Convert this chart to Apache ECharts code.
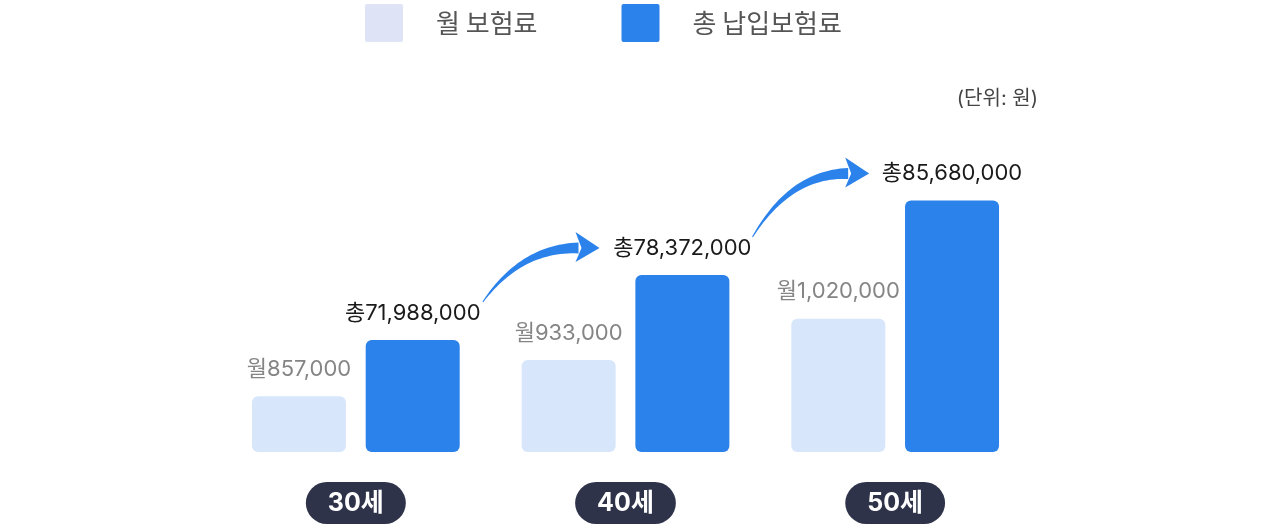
<!DOCTYPE html>
<html>
<head>
<meta charset="utf-8">
<script src="https://cdn.jsdelivr.net/npm/echarts@6/dist/echarts.min.js"></script>
<style>
  html, body { margin: 0; padding: 0; background: #fff; }
  #chart { width: 1286px; height: 526px; }
</style>
</head>
<body>
<div id="chart"></div>
<script>
var ages = ['30세', '40세', '50세']
var monthly = [857000, 933000, 1020000]
var total = [71988000, 78372000, 85680000]
var seriesNames = ['월 보험료', '총 납입보험료']
var unitText = '(단위: 원)'

var FONT = 'Inter, "Noto Sans CJK KR", sans-serif'
var fmt = function (v) { return v.toLocaleString('en-US') }

var chart = echarts.init(document.getElementById('chart'))

chart.setOption({
  animation: false,
  textStyle: { fontFamily: FONT },
  legend: {
    left: 365,
    top: 4,
    padding: 0,
    itemWidth: 38,
    itemHeight: 38,
    itemGap: 84,
    icon: 'path://M2,0 H36 A2,2 0 0 1 38,2 V36 A2,2 0 0 1 36,38 H2 A2,2 0 0 1 0,36 V2 A2,2 0 0 1 2,0 Z',
    textStyle: { fontSize: 26, color: '#555', padding: [0, 0, 0, 28], fontFamily: '"Noto Sans CJK KR", sans-serif' },
    data: [
      { name: seriesNames[0], itemStyle: { color: '#dee4f5' } },
      { name: seriesNames[1], itemStyle: { color: '#2b82ea' } }
    ]
  },
  title: {
    text: unitText,
    right: 243,
    top: 84,
    textStyle: { fontSize: 20, fontWeight: 'normal', color: '#444', fontFamily: FONT }
  },
  grid: { left: 221, right: 256, top: 100, bottom: 74 },
  xAxis: {
    type: 'category',
    data: ages,
    axisLine: { show: false },
    axisTick: { show: false },
    axisLabel: {
      margin: 30,
      color: '#fff',
      fontSize: 25,
      fontWeight: 'bold',
      lineHeight: 24,
      backgroundColor: '#2e3349',
      borderRadius: 21,
      padding: [9, 22],
      fontFamily: FONT
    }
  },
  yAxis: [
    { type: 'value', min: 740000, max: 1479000, show: false, splitLine: { show: false } },
    { type: 'value', min: 61000000, max: 95540000, show: false, splitLine: { show: false } }
  ],
  series: [
    {
      name: seriesNames[0],
      type: 'bar',
      yAxisIndex: 0,
      data: monthly,
      barWidth: 94,
      barGap: '21%',
      itemStyle: { color: '#d8e6fb', borderRadius: 6 },
      label: {
        show: true,
        position: 'top',
        distance: 16,
        fontSize: 22,
        color: '#858585',
        formatter: function (p) { return '월' + fmt(p.value) }
      }
    },
    {
      name: seriesNames[1],
      type: 'bar',
      yAxisIndex: 1,
      data: total,
      barWidth: 94,
      barGap: '21%',
      itemStyle: { color: '#2b82ea', borderRadius: 6 },
      label: {
        show: true,
        position: 'top',
        distance: 16,
        fontSize: 22,
        color: '#1a1a1a',
        formatter: function (p) { return '총' + fmt(p.value) }
      }
    }
  ]
})

// curved arrows between the total labels
function arrowShapes(sx, sy, ex, ey) {
  var bx = ex - 21, by = ey
  var cx = sx + 38, cy = ey
  var left = [], right = []
  for (var i = 0; i <= 30; i++) {
    var t = i / 30
    var x = (1 - t) * (1 - t) * sx + 2 * (1 - t) * t * cx + t * t * bx
    var y = (1 - t) * (1 - t) * sy + 2 * (1 - t) * t * cy + t * t * by
    var dx = 2 * (1 - t) * (cx - sx) + 2 * t * (bx - cx)
    var dy = 2 * (1 - t) * (cy - sy) + 2 * t * (by - cy)
    var len = Math.sqrt(dx * dx + dy * dy) || 1
    var nx = -dy / len, ny = dx / len
    var w = (1 + 10 * t) / 2
    left.push([x + nx * w, y + ny * w])
    right.unshift([x - nx * w, y - ny * w])
  }
  return [
    { type: 'polygon', shape: { points: left.concat(right) }, style: { fill: '#2b82ea' }, z: 10 },
    {
      type: 'polygon',
      shape: { points: [[bx - 3, by - 16], [ex, ey], [bx - 3, by + 14], [bx + 3, by]] },
      style: { fill: '#2b82ea' },
      z: 10
    }
  ]
}

var graphics = []
for (var i = 0; i < ages.length - 1; i++) {
  var a = chart.convertToPixel({ xAxisIndex: 0, yAxisIndex: 1 }, [i, total[i]])
  var b = chart.convertToPixel({ xAxisIndex: 0, yAxisIndex: 1 }, [i + 1, total[i + 1]])
  graphics = graphics.concat(arrowShapes(a[0] + 127, a[1] - 38, b[0] - 26, b[1] - 27))
}
chart.setOption({ graphic: graphics })
</script>
</body>
</html>
